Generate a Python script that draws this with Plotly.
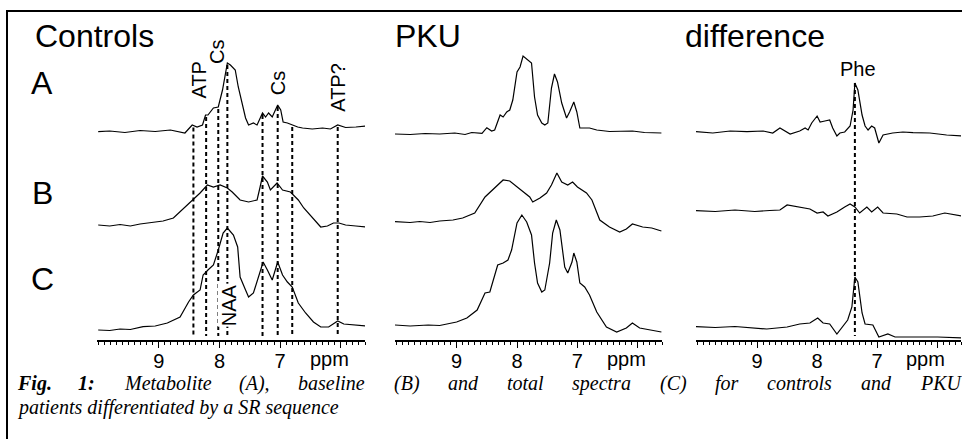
import numpy as np
import plotly.graph_objects as go

W, H = 962, 439

# ---------------- data (chemical shift in ppm, intensity in arbitrary units) ----------------
ctrl_A_ppm = [10.00, 9.81, 9.56, 9.31, 9.06, 8.81, 8.57, 8.45, 8.37, 8.28, 8.23, 8.19, 8.10, 8.02, 7.95, 7.87,
              7.82, 7.74, 7.69, 7.62, 7.57, 7.52, 7.44, 7.38, 7.29, 7.24, 7.19, 7.13, 7.04, 6.99, 6.95, 6.88,
              6.80, 6.71, 6.63, 6.47, 6.30, 6.17, 6.05, 5.92, 5.75, 5.59]
ctrl_A_val = [0.3, 1, -0.5, 1.5, 0.5, 2, -1, 7, 5, 7, 17, 17, 24, 25, 42, 69,
              67, 62, 45, 25, 14, 7, 9, 7, 19, 15, 19, 15, 27, 22, 10, 9,
              7, 5, 4, 3, 4, 3, 7, 4.5, 5, 6]

ctrl_B_ppm = [10.00, 9.81, 9.64, 9.47, 9.31, 9.09, 8.93, 8.76, 8.62, 8.45, 8.32, 8.20, 8.10, 7.99, 7.87, 7.79,
              7.66, 7.52, 7.38, 7.33, 7.29, 7.21, 7.16, 7.05, 6.96, 6.83, 6.70, 6.61, 6.47, 6.33, 6.22, 6.12,
              6.03, 5.92, 5.75, 5.59]
ctrl_B_val = [1, 0, 1.5, 0, 2, 4, 5, 8, 16, 26, 33, 41, 39, 41, 38, 34,
              26, 24, 26, 39, 50, 44, 36, 43, 36, 34, 26, 18, 8, -1, 0, 3,
              3, 1, 0, -1]

ctrl_C_ppm = [10.00, 9.81, 9.64, 9.47, 9.26, 9.06, 8.86, 8.65, 8.51, 8.43, 8.32, 8.27, 8.19, 8.10, 8.02, 7.94,
              7.87, 7.77, 7.70, 7.66, 7.57, 7.52, 7.44, 7.36, 7.28, 7.21, 7.13, 7.04, 6.96, 6.88, 6.80, 6.70,
              6.58, 6.45, 6.33, 6.20, 6.05, 5.95, 5.75, 5.59]
ctrl_C_val = [0, -0.5, 1, 0.5, 3.3, 4, 7, 13, 28, 35, 40, 55, 60, 65, 80, 97,
              102, 95, 83, 53, 40, 33, 37, 53, 68, 60, 50, 68, 55, 48, 43, 27,
              17, 8, 3, 3, 9, 6, 4.5, 4]

pku_A_ppm = [10.02, 9.77, 9.52, 9.28, 9.03, 8.86, 8.75, 8.58, 8.50, 8.42, 8.37, 8.28, 8.23, 8.17, 8.12, 8.07,
             8.00, 7.95, 7.90, 7.84, 7.76, 7.71, 7.66, 7.59, 7.54, 7.49, 7.43, 7.38, 7.33, 7.26, 7.18, 7.13,
             7.06, 7.01, 6.96, 6.80, 6.68, 6.47, 6.30, 6.09, 5.89, 5.64, 5.61]
pku_A_val = [0, -0.5, 0.5, 0, 1, -0.5, 1.5, 0.7, 6.3, 3, 4, 19, 17, 22, 24, 34,
             62, 67, 78, 75, 71, 37, 19, 11, 9, 11, 46, 60, 52, 31, 16, 22,
             32, 22, 6, 6, 4, 2.5, 3, 3, 1.5, 1, 1]

pku_B_ppm = [10.02, 9.77, 9.61, 9.44, 9.28, 9.06, 8.90, 8.70, 8.53, 8.40, 8.23, 8.12, 8.00, 7.90, 7.79, 7.74,
             7.62, 7.51, 7.43, 7.34, 7.26, 7.16, 7.08, 7.00, 6.85, 6.76, 6.63, 6.47, 6.30, 6.19, 6.09, 5.92,
             5.77, 5.61]
pku_B_val = [0.3, -0.5, 0.5, -0.5, 1, 2, 4, 9, 25, 32, 42, 41, 35, 30, 25, 20,
             24, 29, 37, 49, 40, 37, 40, 35, 29, 22, 2, -5, -10, -7, -2, -5,
             -6, -9]

pku_C_ppm = [10.02, 9.77, 9.47, 9.28, 9.00, 8.83, 8.66, 8.53, 8.45, 8.32, 8.23, 8.15, 8.09, 8.00, 7.92, 7.84,
             7.76, 7.71, 7.66, 7.59, 7.54, 7.46, 7.41, 7.35, 7.29, 7.21, 7.16, 7.09, 7.06, 7.01, 6.96, 6.88,
             6.80, 6.68, 6.52, 6.35, 6.19, 6.09, 5.97, 5.81, 5.61]
pku_C_val = [1, 0, 1, 0.5, 4, 8, 16, 33, 34, 61, 63, 66, 76, 103, 111, 104,
             91, 63, 43, 34, 36, 63, 93, 106, 96, 59, 53, 64, 73, 64, 43, 39,
             31, 14, -1, -6, -2, 3, -2, -4, -6]

diff_A_ppm = [10.02, 9.74, 9.45, 9.17, 8.90, 8.74, 8.62, 8.45, 8.29, 8.20, 8.15, 8.09, 8.00, 7.95, 7.87, 7.79,
              7.74, 7.67, 7.62, 7.54, 7.45, 7.40, 7.37, 7.32, 7.25, 7.20, 7.15, 7.09, 7.04, 6.97, 6.90, 6.74,
              6.57, 6.40, 6.12, 5.84, 5.59]
diff_A_val = [0.3, -1, 1, 0.3, 1, -1, 4, -2, 1, 4, 2, 9, 16, 10, 11, 12,
              4, -4, -1, 0, 6, 22, 49, 42, 17, 6, 2, 6, 4, -11, -3, -1,
              0, -0.7, -1, -3, -4]

diff_B_ppm = [10.02, 9.70, 9.37, 9.04, 8.79, 8.62, 8.50, 8.34, 8.12, 8.00, 7.90, 7.82, 7.67, 7.54, 7.45, 7.37,
              7.29, 7.17, 7.09, 6.99, 6.90, 6.67, 6.50, 6.29, 6.07, 5.87, 5.59]
diff_B_val = [0.3, -0.5, 1, -0.5, 0.5, 1, 6, 4, 2, -2, -1, -5, -1, 4, 7, 4,
              -2, 4, -1, 4, -2, -3, -6, -6, -5, -2, -5]

diff_C_ppm = [10.02, 9.70, 9.37, 9.12, 8.84, 8.50, 8.29, 8.12, 7.99, 7.90, 7.79, 7.67, 7.59, 7.49, 7.42, 7.37,
              7.32, 7.25, 7.20, 7.07, 6.97, 6.82, 6.70, 6.40, 5.99, 5.59]
diff_C_val = [1.3, 0.5, 1.5, 0, -1, 1, 4, 5, 10, 5, 4, -6, 0, 8, 21, 51,
              46, 15, 4, 3, -9, -6, -9, -9, -9, -10]

# assignments (ppm)
control_marker_ppm = [8.43, 8.22, 8.02, 7.87, 7.29, 7.04, 6.80, 6.05]
phe_ppm = 7.37

column_titles = ["Controls", "PKU", "difference"]
row_letters = ["A", "B", "C"]
tick_values = [9, 8, 7, 6]
tick_labels = ["9", "8", "7", ""]
caption_line1 = ["Fig.", "1:", "Metabolite", "(A),", "baseline", "(B)", "and", "total", "spectra", "(C)",
                 "for", "controls", "and", "PKU"]
caption_line2 = "patients differentiated by a SR sequence"

# ---------------- layout helpers ----------------
def fx(px):
    return px / W

def fy(py):
    return 1 - py / H

col_px = [(97, 365), (395, 662), (696, 961)]
axis_py = 341
ppm_range = [10.02, 5.6]
# baseline pixel row of every spectrum (column, row)
baselines = [[132, 226, 330], [134, 222, 326], [132, 211, 328]]

spectra = [
    [(ctrl_A_ppm, ctrl_A_val), (ctrl_B_ppm, ctrl_B_val), (ctrl_C_ppm, ctrl_C_val)],
    [(pku_A_ppm, pku_A_val), (pku_B_ppm, pku_B_val), (pku_C_ppm, pku_C_val)],
    [(diff_A_ppm, diff_A_val), (diff_B_ppm, diff_B_val), (diff_C_ppm, diff_C_val)],
]

fig = go.Figure()
layout = dict(
    width=W, height=H, margin=dict(l=0, r=0, t=0, b=0),
    paper_bgcolor="white", plot_bgcolor="rgba(0,0,0,0)",
    showlegend=False,
    font=dict(family="Liberation Sans, Arial, sans-serif", color="black"),
)

axis_font = dict(family="Liberation Sans, Arial, sans-serif", size=20, color="black")
for c in range(3):
    xname = "xaxis" if c == 0 else f"xaxis{c+1}"
    layout[xname] = dict(
        domain=[fx(col_px[c][0]), fx(col_px[c][1])],
        range=ppm_range, anchor="free", position=fy(axis_py),
        showline=True, linecolor="black", linewidth=1.5,
        ticks="outside", ticklen=6, tickwidth=1.3, tickcolor="black",
        tickmode="array", tickvals=tick_values, ticktext=tick_labels,
        tickfont=axis_font, showgrid=False, zeroline=False, ticklabelstandoff=-4,
        minor=dict(ticks="outside", dtick=0.1, tick0=0, ticklen=3, tickwidth=1, tickcolor="black", showgrid=False),
    )
    for r in range(3):
        k = c * 3 + r + 1
        yname = "yaxis" if k == 1 else f"yaxis{k}"
        base = baselines[c][r]
        ydict = dict(domain=[0, 1], range=[base - H, base], visible=False, fixedrange=True)
        if k > 1:
            ydict["overlaying"] = "y"
        layout[yname] = ydict
        ppm, val = spectra[c][r]
        fig.add_trace(go.Scatter(
            x=ppm, y=val, mode="lines",
            line=dict(color="black", width=1.2),
            xaxis="x" if c == 0 else f"x{c+1}",
            yaxis="y" if k == 1 else f"y{k}",
            hoverinfo="skip",
        ))

shapes = []
dash = "4px,3px"
a_ppm = np.array(ctrl_A_ppm[::-1])
a_val = np.array(ctrl_A_val[::-1])
for p in control_marker_ppm:
    top = float(np.interp(p, a_ppm, a_val)) - 2
    shapes.append(dict(type="line", xref="x", yref="y", x0=p, x1=p, y0=top,
                       y1=baselines[0][0] - 336, line=dict(color="black", width=2, dash=dash), layer="below"))
d_ppm = np.array(diff_A_ppm[::-1])
d_val = np.array(diff_A_val[::-1])
top = float(np.interp(phe_ppm, d_ppm, d_val))
shapes.append(dict(type="line", xref="x3", yref="y7", x0=phe_ppm, x1=phe_ppm, y0=top,
                   y1=baselines[2][0] - 336, line=dict(color="black", width=2, dash=dash), layer="below"))
# frame
shapes.append(dict(type="line", xref="paper", yref="paper", x0=fx(7), x1=fx(7), y0=fy(10), y1=fy(H + 2),
                   line=dict(color="black", width=2)))
shapes.append(dict(type="line", xref="paper", yref="paper", x0=fx(6), x1=fx(W + 2), y0=fy(11), y1=fy(11),
                   line=dict(color="black", width=2)))
layout["shapes"] = shapes

ann = []
big = dict(family="Liberation Sans, Arial, sans-serif", size=32, color="black")
title_left = [33, 393, 683]
for c in range(3):
    ann.append(dict(text=column_titles[c], x=fx(title_left[c]), y=fy(36), xref="paper", yref="paper",
                    xanchor="left", yanchor="middle", showarrow=False, font=big))
letter_y = [83, 193, 279]
for r in range(3):
    ann.append(dict(text=row_letters[r], x=fx(42), y=fy(letter_y[r]), xref="paper", yref="paper",
                    xanchor="center", yanchor="middle", showarrow=False, font=big))
for c in range(3):
    ann.append(dict(text="ppm", x=6.19, y=fy(359), xref="x" if c == 0 else f"x{c+1}", yref="paper",
                    xanchor="center", yanchor="middle", showarrow=False, font=axis_font))

lab = dict(family="Liberation Sans, Arial, sans-serif", size=20, color="black")
rot_labels = [("ATP", 8.33, 80), ("Cs", 8.04, 52), ("Cs", 7.03, 83), ("ATP?", 6.05, 87)]
for t, p, py in rot_labels:
    ann.append(dict(text=t, x=p, y=fy(py), xref="x", yref="paper", textangle=-90,
                    xanchor="center", yanchor="middle", showarrow=False, font=lab))
ann.append(dict(text="NAA", x=7.84, y=fy(305), xref="x", yref="paper", textangle=-90,
                xanchor="center", yanchor="middle", showarrow=False, font=lab, bgcolor="white", borderpad=0))
ann.append(dict(text="Phe", x=7.32, y=fy(69), xref="x3", yref="paper",
                xanchor="center", yanchor="middle", showarrow=False, font=lab))

# caption: first line justified between the frame and the right edge
cap_size = 20
cap_font = dict(family="Liberation Serif, Times New Roman, serif", size=cap_size, color="black")
times_italic = {'F': 611, 'i': 278, 'g': 500, '.': 250, '1': 500, ':': 333, 'M': 833, 'e': 444, 't': 278,
                'a': 500, 'b': 500, 'o': 500, 'l': 278, '(': 333, 'A': 611, ')': 333, ',': 250, 's': 389,
                'n': 500, 'B': 611, 'd': 500, 'p': 500, 'c': 444, 'r': 389, 'C': 667, 'f': 278, 'P': 611,
                'K': 667, 'U': 722}

def text_width(s):
    return sum(times_italic.get(ch, 500) for ch in s) * cap_size / 1000.0

x_start, x_end = 15, 958
widths = [text_width(wd) for wd in caption_line1]
gap = (x_end - x_start - sum(widths)) / (len(caption_line1) - 1)
xpos = x_start
for i, wd in enumerate(caption_line1):
    txt = f"<b><i>{wd}</i></b>" if i < 2 else f"<i>{wd}</i>"
    ann.append(dict(text=txt, x=fx(xpos), y=fy(383), xref="paper", yref="paper", xanchor="left",
                    yanchor="middle", showarrow=False, font=cap_font))
    xpos += widths[i] + gap
ann.append(dict(text=f"<i>{caption_line2}</i>", x=fx(x_start), y=fy(407), xref="paper",
                yref="paper", xanchor="left", yanchor="middle", showarrow=False, font=cap_font))
layout["annotations"] = ann

fig.update_layout(**layout)
fig.write_html("out.html", config={"displayModeBar": False},
               post_script="document.body.style.margin='0px';document.body.style.overflow='hidden';")
